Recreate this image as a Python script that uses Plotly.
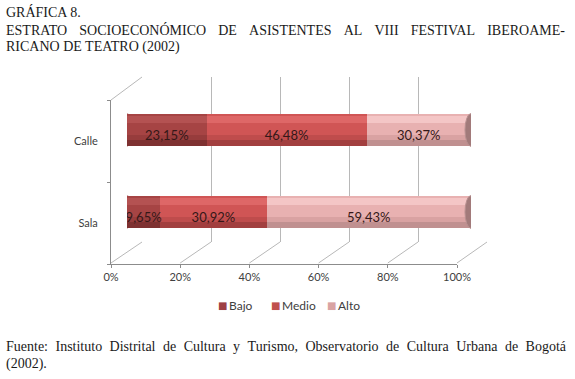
import plotly.graph_objects as go

# ---------------- data ----------------
categories = ["Sala", "Calle"]
series_names = ["Bajo", "Medio", "Alto"]
bajo = [9.65, 23.15]
medio = [30.92, 46.48]
alto = [59.43, 30.37]
tick_vals = [0, 20, 40, 60, 80, 100]
tick_text = ["0%", "20%", "40%", "60%", "80%", "100%"]

title_lines = [
    "GRÁFICA 8.",
    "ESTRATO SOCIOECONÓMICO DE ASISTENTES AL VIII FESTIVAL IBEROAME-",
    "RICANO DE TEATRO (2002)",
]
source_lines = [
    "Fuente: Instituto Distrital de Cultura y Turismo, Observatorio de Cultura Urbana de Bogotá",
    "(2002).",
]

# ---------------- styling / geometry ----------------
W, H = 575, 379
def fx(p): return p / W
def fy(p): return 1 - p / H

X0F, X1F, YF, YTOPF = 111, 457, 263, 100      # front frame
X0B, X1B, YBB, YBT = 142, 487, 242, 77        # back wall
X0M, X1M = 127, 471                            # bar depth plane
YBAR_BOT, YBAR_TOP = 253, 89

base_col = ["#a64444", "#d05555", "#e8b1b1"]
light_col = ["#b45252", "#de6767", "#f4c6c6"]
mid_col = ["#973c3c", "#bf4c4c", "#d9a2a2"]
dark_col = ["#7e3131", "#a23f3f", "#c09090"]
legend_col = ["#9e3f44", "#c0504d", "#d9a3a3"]
grid_col = "#b8b8b8"
axis_col = "#8c8c8c"
txt_col = "#404040"
FONT = "Lato"

values = [bajo, medio, alto]
bases = []
run = [0.0] * len(categories)
for v in values:
    bases.append(list(run))
    run = [r + x for r, x in zip(run, v)]

fig = go.Figure()

# back wall grid holder (subplot xy)
fig.add_trace(go.Scatter(x=[0, 100], y=[0, 1], mode="markers",
                         marker=dict(opacity=0), showlegend=False,
                         hoverinfo="skip", xaxis="x", yaxis="y"))
# front axes holder (subplot x2y2)
fig.add_trace(go.Scatter(x=[0, 0], y=categories, mode="markers",
                         marker=dict(opacity=0), showlegend=False,
                         hoverinfo="skip", xaxis="x2", yaxis="y2"))

# bars (subplot x3y3)
BW = 0.4
for i, name in enumerate(series_names):
    fig.add_trace(go.Bar(
        y=categories, x=values[i], base=bases[i], orientation="h",
        name=name, marker=dict(color=base_col[i], line=dict(width=0)),
        width=BW, xaxis="x3", yaxis="y3", hoverinfo="skip", showlegend=False))
bands = [  # (offset, width, colour list)
    (0.08, 0.09, light_col),
    (-0.12, 0.06, mid_col),
    (-0.2, 0.08, dark_col),
]
for i in range(len(series_names)):
    for off, wd, cols in bands:
        fig.add_trace(go.Bar(
            y=categories, x=values[i], base=bases[i], orientation="h",
            marker=dict(color=cols[i], line=dict(width=0)),
            width=wd, offset=off, showlegend=False,
            xaxis="x3", yaxis="y3", hoverinfo="skip"))

# data labels
lab_x, lab_y, lab_t = [], [], []
for i in range(len(series_names)):
    for j, c in enumerate(categories):
        lab_x.append(bases[i][j] + values[i][j] / 2)
        lab_y.append(c)
        lab_t.append(f"{values[i][j]:.2f}%".replace(".", ","))
fig.add_trace(go.Scatter(x=lab_x, y=lab_y, text=lab_t, mode="text",
                         textposition="bottom center",
                         textfont=dict(family=FONT, size=13, color="#351818"),
                         showlegend=False, hoverinfo="skip",
                         xaxis="x3", yaxis="y3"))

shapes = []
# diagonals from front ticks to back wall
for v in tick_vals:
    xf = X0F + (X1F - X0F) * v / 100
    xb = X0B + (X1B - X0B) * v / 100
    shapes.append(dict(type="line", xref="paper", yref="paper",
                       x0=fx(xf), y0=fy(YF), x1=fx(xb), y1=fy(YBB),
                       line=dict(color=grid_col, width=1), layer="below"))
shapes.append(dict(type="line", xref="paper", yref="paper",
                   x0=fx(X0F), y0=fy(YTOPF), x1=fx(X0B), y1=fy(YBT),
                   line=dict(color=grid_col, width=1), layer="below"))

# cylinder end caps
cap_half = 6 * 100 / (X1M - X0M)
for j, c in enumerate(categories):
    shapes.append(dict(type="circle", xref="x3", yref="y3",
                       x0=-cap_half, x1=cap_half, y0=j - BW / 2, y1=j + BW / 2,
                       fillcolor=mid_col[0], line=dict(width=0), layer="below"))
    shapes.append(dict(type="circle", xref="x3", yref="y3",
                       x0=100 - cap_half, x1=100 + cap_half,
                       y0=j - BW / 2, y1=j + BW / 2,
                       fillcolor="#a27a7a", line=dict(color="#b89090", width=1),
                       layer="above"))

EN, THIN, HAIR = "\u2002", "\u2009", "\u200a"
title_render = [title_lines[0],
                title_lines[1].replace(" ", EN + THIN + HAIR + HAIR),
                title_lines[2]]
source_render = [source_lines[0].replace(" ", " " + THIN + HAIR), source_lines[1]]

annotations = []
for t, yy in zip(title_render, [12, 30, 47]):
    annotations.append(dict(text=t, xref="paper", yref="paper", x=fx(4), y=fy(yy),
                            xanchor="left", yanchor="middle", showarrow=False,
                            font=dict(family="Liberation Serif", size=14, color="#1a1a1a")))
for t, yy in zip(source_render, [346, 364]):
    annotations.append(dict(text=t, xref="paper", yref="paper", x=fx(4), y=fy(yy),
                            xanchor="left", yanchor="middle", showarrow=False,
                            font=dict(family="Liberation Serif", size=14, color="#1a1a1a")))
# legend entries (square marker + label)
for name, col, xx in zip(series_names, legend_col, [216, 269, 325]):
    annotations.append(dict(
        text="■", xref="paper", yref="paper", x=fx(xx), y=fy(305),
        xanchor="left", yanchor="middle", showarrow=False,
        font=dict(family="DejaVu Sans", size=10, color=col)))
    annotations.append(dict(
        text=name, xref="paper", yref="paper", x=fx(xx + 11), y=fy(305),
        xanchor="left", yanchor="middle", showarrow=False,
        font=dict(family=FONT, size=12, color=txt_col)))

hidden = dict(showgrid=False, zeroline=False, showline=False,
              showticklabels=False, ticks="", automargin=False)

fig.update_layout(
    width=W, height=H, autosize=False,
    margin=dict(l=0, r=0, t=0, b=0, pad=0),
    paper_bgcolor="white", plot_bgcolor="rgba(0,0,0,0)",
    barmode="overlay", bargap=0,
    showlegend=False,
    xaxis=dict(domain=[fx(X0B), fx(X1B)], range=[0, 100], tickvals=tick_vals,
               showgrid=True, gridcolor=grid_col, gridwidth=1, zeroline=False,
               showline=False, showticklabels=False, ticks="", anchor="y",
               automargin=False),
    yaxis=dict(domain=[fy(YBB), fy(YBT)], range=[0, 1], anchor="x", **hidden),
    xaxis2=dict(domain=[fx(X0F), fx(X1F)], range=[0, 100], tickvals=tick_vals,
                ticktext=tick_text, showgrid=False, zeroline=False,
                showline=True, linecolor=axis_col, linewidth=1,
                ticks="outside", ticklen=3, tickcolor=axis_col,
                tickfont=dict(family=FONT, size=11, color=txt_col), anchor="y2",
                automargin=False),
    yaxis2=dict(domain=[fy(YF + 1), fy(YTOPF)], type="category",
                categoryorder="array", categoryarray=categories,
                range=[-0.5, 1.5], showgrid=False, zeroline=False,
                showline=True, linecolor=axis_col, linewidth=1,
                ticks="outside", ticklen=3, tickcolor=axis_col,
                tickson="boundaries", ticklabelstandoff=10,
                tickfont=dict(family=FONT, size=11, color=txt_col), anchor="x2",
                automargin=False),
    xaxis3=dict(domain=[fx(X0M), fx(X1M)], range=[0, 100], anchor="y3", **hidden),
    yaxis3=dict(domain=[fy(YBAR_BOT), fy(YBAR_TOP)], type="category",
                categoryorder="array", categoryarray=categories,
                range=[-0.5, 1.5], anchor="x3", **hidden),
    shapes=shapes, annotations=annotations,
)

fig.write_html("out.html", config={"displayModeBar": False},
               post_script="document.body.style.margin='0';document.body.style.overflow='hidden';")
